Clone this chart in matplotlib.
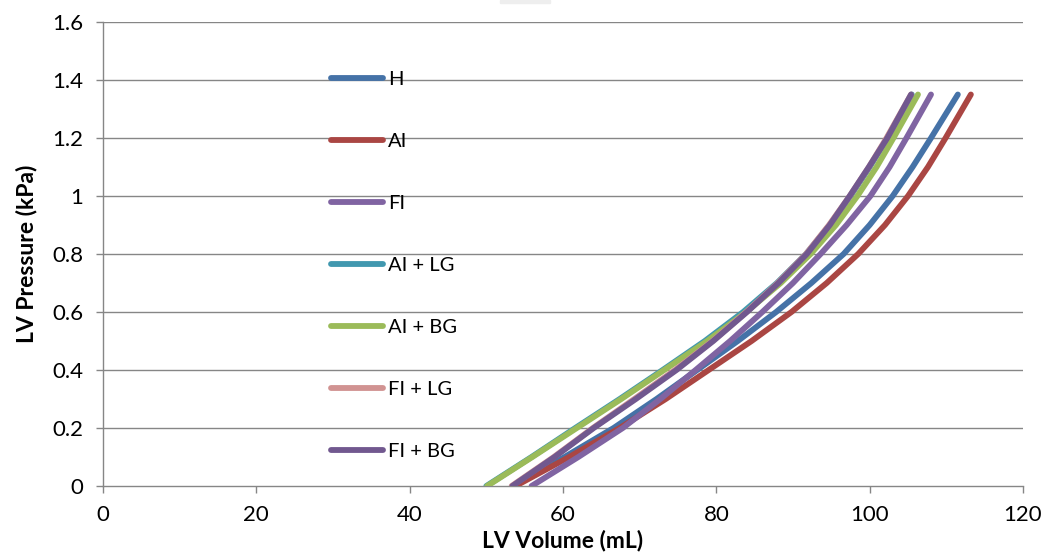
import matplotlib
matplotlib.use("Agg")
import matplotlib.pyplot as plt
from matplotlib.ticker import FuncFormatter
from matplotlib.patches import Rectangle

# Data
pressure = [0, 0.1, 0.2, 0.3, 0.4, 0.5, 0.6, 0.7, 0.8, 0.9, 1.0, 1.1, 1.2, 1.35]
vol_H = [53.5, 60.2, 66.6, 72.2, 77.5, 82.8, 87.8, 92.4, 96.6, 100.0, 103.0, 105.6, 108.0, 111.5]
vol_AI = [53.8, 60.8, 67.4, 73.4, 79.0, 84.6, 89.8, 94.4, 98.5, 102.0, 105.0, 107.6, 109.9, 113.2]
vol_FI = [55.9, 62.0, 67.8, 72.7, 77.3, 81.8, 86.0, 90.0, 93.6, 97.0, 100.1, 102.6, 104.8, 108.0]
vol_AI_LG = [50.0, 55.9, 61.6, 67.4, 73.0, 78.5, 83.5, 87.9, 91.7, 94.8, 97.5, 100.0, 102.3, 105.5]
vol_AI_BG = [50.1, 56.0, 61.8, 67.6, 73.2, 78.8, 83.9, 88.4, 92.3, 95.6, 98.4, 100.9, 103.1, 106.3]
vol_FI_LG = [53.3, 58.8, 63.9, 69.3, 74.6, 79.5, 83.9, 88.0, 91.7, 94.7, 97.4, 99.9, 102.2, 105.4]
vol_FI_BG = [53.4, 58.9, 64.0, 69.5, 74.8, 79.6, 84.0, 88.1, 91.8, 94.8, 97.4, 99.9, 102.3, 105.4]

labels = ["H", "AI", "FI", "AI + LG", "AI + BG", "FI + LG", "FI + BG"]
series = [vol_H, vol_AI, vol_FI, vol_AI_LG, vol_AI_BG, vol_FI_LG, vol_FI_BG]
colors = ["#4572A7", "#AA4643", "#8064A2", "#4198AF", "#9BBB59", "#D19392", "#71588F"]

x_ticks = [0, 20, 40, 60, 80, 100, 120]
y_ticks = [0, 0.2, 0.4, 0.6, 0.8, 1.0, 1.2, 1.4, 1.6]

plt.rcParams['font.family'] = ['Lato', 'DejaVu Sans']

W, H = 1050, 559
fig = plt.figure(figsize=(W / 100, H / 100), dpi=100)
ax = fig.add_axes([103 / W, 1 - 486 / H, (1023 - 103) / W, (486 - 22) / H])

grid_c = "#868686"
for yv in y_ticks[1:]:
    ax.axhline(yv, color=grid_c, lw=1.0, zorder=1)

for vals, lab, c in zip(series, labels, colors):
    ax.plot(vals, pressure, color=c, lw=4.2, solid_capstyle='round',
            solid_joinstyle='round', label=lab, zorder=3)

ax.set_xlim(0, 120)
ax.set_ylim(0, 1.6)
ax.set_xticks(x_ticks)
ax.set_yticks(y_ticks)
ax.yaxis.set_major_formatter(FuncFormatter(lambda v, p: ('%g' % round(v, 2))))
ax.tick_params(axis='both', direction='out', length=5, width=1, color=grid_c,
               labelsize=16, labelcolor='black')
ax.tick_params(axis='x', pad=9)
ax.tick_params(axis='y', pad=9)
for s in ['top', 'right']:
    ax.spines[s].set_visible(False)
for s in ['left', 'bottom']:
    ax.spines[s].set_color(grid_c)
    ax.spines[s].set_linewidth(1.0)

ax.set_xlabel("LV Volume (mL)", fontsize=16.5, fontweight='bold', labelpad=3)
ax.set_ylabel("LV Pressure (kPa)", fontsize=16.5, fontweight='bold', labelpad=11)

leg = fig.legend(loc='upper left', bbox_to_anchor=(331 / W, 1 - 71 / H),
                 frameon=False, fontsize=14.5, handlelength=2.6, handletextpad=0.25,
                 labelspacing=2.23, borderpad=0, borderaxespad=0)

fig.patches.append(Rectangle((500 / W, 1 - 3 / H), 50 / W, 3 / H,
                             transform=fig.transFigure, color="#EEEEEE", zorder=0))

fig.savefig("out.png", dpi=100)
